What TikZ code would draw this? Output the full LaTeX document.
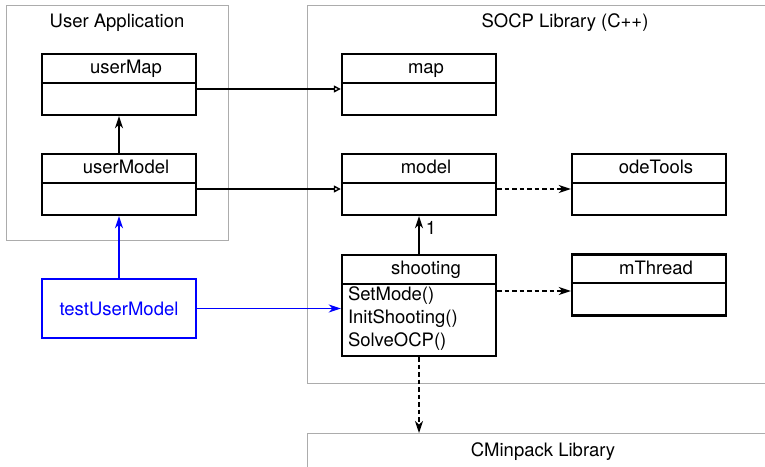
\documentclass[tikz,border=0pt]{standalone}
\usepackage{fontspec}
\setmainfont{TeX Gyre Heros}
\usetikzlibrary{arrows.meta, positioning, calc}

\begin{document}
\begin{tikzpicture}[
    x=1pt, y=-1pt,
    every node/.style={font=\fontsize{18.5}{23}\selectfont},
    pkg/.style={draw=gray!65, line width=0.9pt, anchor=north west, inner sep=0},
    cls/.style={draw, line width=2.4pt, minimum width=154, minimum height=61, inner sep=0},
    ttl/.style={anchor=base, inner sep=0},
    ops/.style={align=left, anchor=north west, inner sep=0},
    divl/.style={line width=2.2pt},
    real/.style={-{Triangle[open, length=7pt, width=7pt]}, line width=1.4pt},
    flow/.style={-{Stealth[length=12pt, width=8pt, inset=3.5pt]}, line width=1.6pt},
    dep/.style={flow, dash pattern=on 4.5pt off 3pt},
    tst/.style={flow, blue}
]
\useasboundingbox (0,0) rectangle (765,466);
\clip (0,0) rectangle (765,466);

% Packages
\node[pkg, minimum width=222, minimum height=235] (userapp) at (6,5) {};
\node (userapp-t) at (117,23) {User Application};
\node[pkg, minimum width=500, minimum height=378] (socp) at (307,5) {};
\node (socp-t) at (565,23) {SOCP Library (C++)};
\node[pkg, minimum width=500, minimum height=60] (cminpack) at (307,433) {};
\node (cminpack-t) at (543,452) {CMinpack Library};

% Classes
\node[cls] (userMap) at (119,84.5) {};
\node[cls] (userModel) at (119,184.5) {};
\node[cls] (map) at (419,84.5) {};
\node[cls] (model) at (419,184.5) {};
\node[cls] (odeTools) at (649,184.5) {};
\node[cls, minimum height=101] (shooting) at (419,305.5) {};
\node[cls] (mThread) at (649,285) {};
\node[cls, draw=blue, text=blue, line width=2pt, minimum height=59] (testUserModel) at (119,308.5) {testUserModel};

\foreach \c in {userMap, userModel, map, model, odeTools, shooting, mThread} {
    \draw[divl] ([yshift=-30pt]\c.north west) -- ([yshift=-30pt]\c.north east);
    \node[ttl] (\c-t) at ($(\c.north)+(7,21)$) {\c};
}
\node[ops] (shooting-ops) at ($(shooting.north west)+(7,33)$) {SetMode()\\InitShooting()\\SolveOCP()};

% Links
\draw[flow] (userModel) -- (userMap);
\draw[tst] (testUserModel) -- (userModel);
\draw[tst] (testUserModel.east) -- (testUserModel.east -| shooting.west);
\draw[real] ([yshift=-4.5pt]userMap.east) -- ([yshift=-4.5pt]map.west);
\draw[real] ([yshift=-4.5pt]userModel.east) -- ([yshift=-4.5pt]model.west);
\draw[dep] ([yshift=-4.5pt]model.east) -- ([yshift=-4.5pt]odeTools.west);
\draw[dep] ([yshift=-6pt]shooting.east |- mThread.west) -- ([yshift=-6pt]mThread.west);
\draw[flow] (shooting) -- node[pos=0.7, right, inner sep=6pt] (one) {1} (model);
\draw[dep] (shooting.south) -- (shooting.south |- cminpack.north);

\end{tikzpicture}
\end{document}
